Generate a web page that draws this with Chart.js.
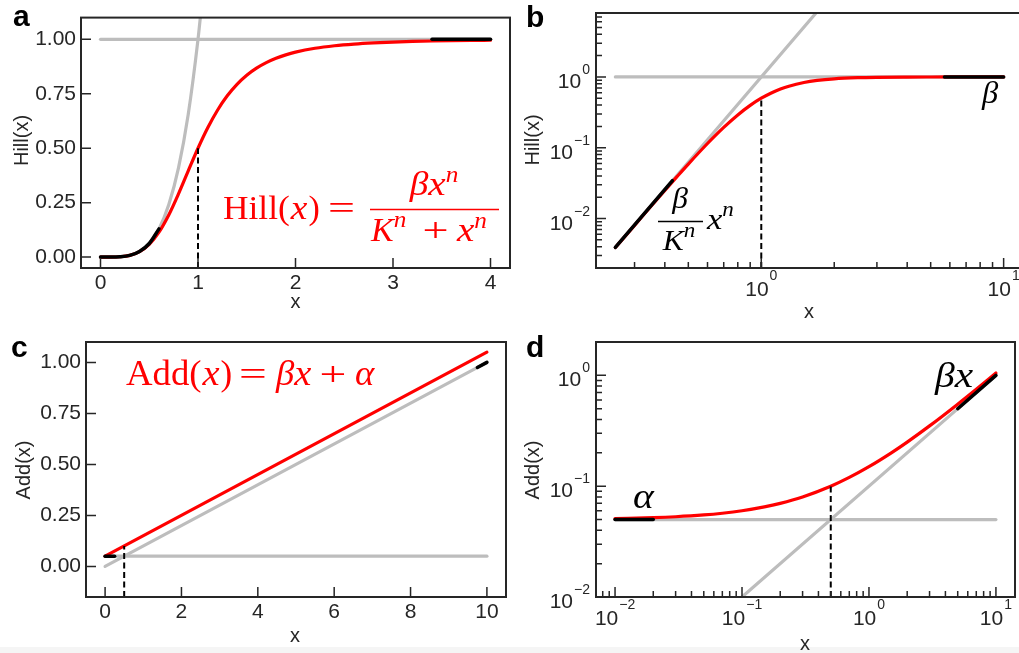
<!DOCTYPE html>
<html><head><meta charset="utf-8">
<script src="https://cdn.jsdelivr.net/npm/chart.js@4.4.1/dist/chart.umd.min.js"></script>
<style>
html,body{margin:0;padding:0;background:#fff;width:1019px;height:653px;overflow:hidden;position:relative}
canvas{position:absolute}
#strip{position:absolute;left:0;top:647px;width:1019px;height:6px;background:#f5f5f5}
</style></head><body>
<div id="strip"></div>
<canvas id="ca" width="515" height="320" style="left:0;top:0"></canvas>
<canvas id="cb" width="505" height="320" style="left:520px;top:0"></canvas>
<canvas id="cc" width="515" height="333" style="left:0;top:320px"></canvas>
<canvas id="cd" width="499" height="333" style="left:520px;top:320px"></canvas>
<script>
// ---------------- DATA ----------------
// Panel a : Hill(x), linear axes
const aHillX = [0,0.1,0.2,0.3,0.4,0.5,0.6,0.7,0.8,0.9,1.0,1.1,1.2,1.3,1.4,1.5,1.6,1.7,1.8,1.9,2.0,2.2,2.4,2.6,2.8,3.0,3.2,3.4,3.6,3.8,4.0];
const aHillY = [0,0.0001,0.0016,0.0080,0.0250,0.0588,0.1147,0.1936,0.2906,0.3962,0.5,0.5941,0.6746,0.7407,0.7935,0.8351,0.8676,0.8931,0.9130,0.9287,0.9412,0.9591,0.9708,0.9786,0.9840,0.9878,0.9906,0.9926,0.9941,0.9952,0.9961];
const aPowX = [0,0.1,0.2,0.3,0.4,0.5,0.6,0.7,0.8,0.9,1.0,1.05];
const aPowY = [0,0.0001,0.0016,0.0081,0.0256,0.0625,0.1296,0.2401,0.4096,0.6561,1.0,1.2155];
const aSatX = [0,4], aSatY = [1,1];
const aLowX = [0,0.1,0.2,0.3,0.4,0.5,0.6], aLowY = [0,0.0001,0.0016,0.0081,0.0256,0.0625,0.1296];
const aHighX = [3.4,4], aHighY = [1,1];
const aHalfX = [1,1], aHalfY = [-0.05,0.5];
const aXTicks = [0,1,2,3,4];
const aYTicks = [0,0.25,0.5,0.75,1];

// Panel b : Hill(x), log-log axes
const bHillX = [0.25,0.3,0.35,0.4,0.45,0.5,0.6,0.7,0.8,0.9,1.0,1.1,1.2,1.3,1.5,1.7,2,2.5,3,4,5,6,8,10];
const bHillY = [0.0039,0.0080,0.0148,0.0250,0.0394,0.0588,0.1147,0.1936,0.2906,0.3962,0.5,0.5941,0.6746,0.7407,0.8351,0.8931,0.9412,0.9750,0.9878,0.9961,0.9984,0.9992,0.9998,0.9999];
const bPowX = [0.25,2], bPowY = [0.0039,16];
const bSatX = [0.25,10], bSatY = [1,1];
const bLowX = [0.25,0.43], bLowY = [0.0039,0.0342];
const bHighX = [5.7,10], bHighY = [1,1];
const bHalfX = [1,1], bHalfY = [0.002,0.5];
const bXMajor = [1,10];
const bXMinor = [0.3,0.4,0.5,0.6,0.7,0.8,0.9,2,3,4,5,6,7,8,9];
const bYMajor = [0.01,0.1,1];
const bYMinor = [0.002,0.003,0.004,0.005,0.006,0.007,0.008,0.009,0.02,0.03,0.04,0.05,0.06,0.07,0.08,0.09,0.2,0.3,0.4,0.5,0.6,0.7,0.8,0.9,2,3,4,5,6,7,8];

// Panel c : Add(x), linear axes
const cAddX = [0,10], cAddY = [0.05,1.05];
const cLinX = [0,10], cLinY = [0,1];
const cConX = [0,10], cConY = [0.05,0.05];
const cLowX = [0,0.25], cLowY = [0.05,0.05];
const cHighX = [9.75,10], cHighY = [0.975,1];
const cHalfX = [0.5,0.5], cHalfY = [-0.15,0.1];
const cXTicks = [0,2,4,6,8,10];
const cYTicks = [0,0.25,0.5,0.75,1];

// Panel d : Add(x), log-log axes
const dAddX = [0.01,0.02,0.03,0.05,0.07,0.1,0.15,0.2,0.3,0.5,0.7,1,1.5,2,3,5,7,10];
const dAddY = [0.051,0.052,0.053,0.055,0.057,0.06,0.065,0.07,0.08,0.1,0.12,0.15,0.2,0.25,0.35,0.55,0.75,1.05];
const dConX = [0.01,10], dConY = [0.05,0.05];
const dLinX = [0.1,10], dLinY = [0.01,1];
const dLowX = [0.01,0.02], dLowY = [0.05,0.05];
const dHighX = [5,10], dHighY = [0.5,1];
const dHalfX = [0.5,0.5], dHalfY = [0.01,0.1];
const dXMajor = [0.01,0.1,1,10];
const dXMinor = [0.008,0.009,0.02,0.03,0.04,0.05,0.06,0.07,0.08,0.09,0.2,0.3,0.4,0.5,0.6,0.7,0.8,0.9,2,3,4,5,6,7,8,9];
const dYMajor = [0.01,0.1,1];
const dYMinor = [0.02,0.03,0.04,0.05,0.06,0.07,0.08,0.09,0.2,0.3,0.4,0.5,0.6,0.7,0.8,0.9];

// ---------------- STYLE ----------------
const RED = '#ff0000', GRAY = '#bdbdbd', BLACK = '#000000', AXIS = '#262626';
const SANS = '"Liberation Sans", Arial, sans-serif';
const SERIF = '"Liberation Serif", "Times New Roman", serif';
const TICK_PX = 21;

function pts(xs, ys) { return xs.map((x, i) => ({x: x, y: ys[i]})); }
function ds(xs, ys, color, width, extra) {
  return Object.assign({
    data: pts(xs, ys), borderColor: color, backgroundColor: color, borderWidth: width,
    pointRadius: 0, pointHoverRadius: 0, showLine: true, fill: false, tension: 0,
    borderCapStyle: 'round', borderJoinStyle: 'round'
  }, extra || {});
}
const CURVE = {cubicInterpolationMode: 'monotone'};
const DASH = {borderDash: [6, 3.5], borderCapStyle: 'butt'};

function scaleCfg(type, min, max, tickVals, fit, horiz, fmt, pad) {
  const s = {
    type: type, min: min, max: max, bounds: 'data',
    grid: {display: false, drawTicks: false}, border: {display: false},
    afterFit: sc => { if (horiz) sc.height = fit; else sc.width = fit; },
    ticks: {display: !!fmt, autoSkip: false, maxRotation: 0, minRotation: 0, padding: pad || 4,
      color: AXIS, font: {family: SANS, size: TICK_PX}, callback: fmt || (() => '')}
  };
  if (tickVals) s.afterBuildTicks = sc => { sc.ticks = tickVals.map(v => ({value: v})); };
  return s;
}

// ---------------- DECORATION (box, inward ticks, log labels, titles, formulas) ----------------
function runFont(r) { return (r.it ? 'italic ' : '') + r.s + 'px ' + SERIF; }
function drawGroup(ctx, g) {
  const items = g.runs.map(r => { ctx.font = runFont(r); return {r: r, w: ctx.measureText(r.t).width * (r.sx || 1)}; });
  const total = items.reduce((a, b) => a + b.w + (b.r.gap || 0), 0);
  let x = (g.cx !== undefined) ? g.cx - total / 2 : g.x;
  ctx.fillStyle = g.c || BLACK;
  ctx.textAlign = 'left'; ctx.textBaseline = 'alphabetic';
  for (const it of items) {
    x += it.r.gap || 0;
    ctx.font = runFont(it.r);
    ctx.save(); ctx.translate(x, g.y - (it.r.dy || 0)); ctx.scale(it.r.sx || 1, 1);
    ctx.fillText(it.r.t, 0, 0); ctx.restore();
    x += it.w;
  }
}
function expLabel(v) { const e = Math.round(Math.log10(v)); return e < 0 ? '\u2212' + (-e) : String(e); }

const DECOR = {
  ca: {
    xMajor: aXTicks, yMajor: aYTicks, xMinor: [], yMinor: [],
    letter: {t: 'a', x: 13, y: 26}, yTitle: {t: 'Hill(x)', x: 22, y: 140.5}, xTitle: {t: 'x', x: 295.5, y: 308},
    bars: [{x1: 370, x2: 499, y: 209.5, c: RED, w: 1.6}],
    groups: [
      {x: 223, y: 219, c: RED, runs: [{t: 'Hill(', s: 34, sx: 1.04}, {t: 'x', it: 1, s: 34, sx: 1.1, gap: 1}, {t: ')', s: 34, gap: 1}]},
      {cx: 341.5, y: 219, c: RED, runs: [{t: '=', s: 33, sx: 1.45}]},
      {cx: 434, y: 195, c: RED, runs: [{t: '\u03b2', it: 1, s: 34, sx: 1.1}, {t: 'x', it: 1, s: 34, sx: 1.15}, {t: 'n', it: 1, s: 23, dy: 13, sx: 1.1}]},
      {x: 371, y: 241, c: RED, runs: [{t: 'K', it: 1, s: 34}, {t: 'n', it: 1, s: 23, dy: 14, sx: 1.1}]},
      {cx: 435.5, y: 241, c: RED, runs: [{t: '+', s: 33, sx: 1.4}]},
      {x: 457, y: 241, c: RED, runs: [{t: 'x', it: 1, s: 34, sx: 1.15}, {t: 'n', it: 1, s: 23, dy: 13, sx: 1.1}]}
    ]
  },
  cb: {
    xMajor: bXMajor, xMinor: bXMinor, yMajor: bYMajor, yMinor: bYMinor, xLog: true, yLog: true,
    letter: {t: 'b', x: 6, y: 27}, yTitle: {t: 'Hill(x)', x: 13, y: 140}, xTitle: {t: 'x', x: 289, y: 318},
    bars: [{x1: 138, x2: 183, y: 221.5, c: BLACK, w: 1.5}],
    groups: [
      {x: 462, y: 103, c: BLACK, runs: [{t: '\u03b2', it: 1, s: 31, sx: 1.05}]},
      {cx: 160, y: 208, c: BLACK, runs: [{t: '\u03b2', it: 1, s: 30, sx: 1.05}]},
      {cx: 159, y: 250, c: BLACK, runs: [{t: 'K', it: 1, s: 30, sx: 1.05}, {t: 'n', it: 1, s: 21, dy: 13, sx: 1.1}]},
      {x: 187, y: 228.5, c: BLACK, runs: [{t: 'x', it: 1, s: 30, sx: 1.15}, {t: 'n', it: 1, s: 21, dy: 13, sx: 1.1}]}
    ]
  },
  cc: {
    xMajor: cXTicks, yMajor: cYTicks, xMinor: [], yMinor: [],
    letter: {t: 'c', x: 11, y: 37}, yTitle: {t: 'Add(x)', x: 24, y: 150}, xTitle: {t: 'x', x: 295, y: 322},
    bars: [],
    groups: [
      {x: 126, y: 65, c: RED, runs: [{t: 'Add(', s: 35, sx: 1.05}, {t: 'x', it: 1, s: 35, sx: 1.1, gap: 1}, {t: ')', s: 35, gap: 1}]},
      {cx: 253, y: 65, c: RED, runs: [{t: '=', s: 34, sx: 1.45}]},
      {x: 276, y: 65, c: RED, runs: [{t: '\u03b2', it: 1, s: 35, sx: 1.05}, {t: 'x', it: 1, s: 35, sx: 1.1}]},
      {cx: 333, y: 65, c: RED, runs: [{t: '+', s: 34, sx: 1.4}]},
      {x: 355, y: 65, c: RED, runs: [{t: '\u03b1', it: 1, s: 35, sx: 1.05}]}
    ]
  },
  cd: {
    xMajor: dXMajor, xMinor: dXMinor, yMajor: dYMajor, yMinor: dYMinor, xLog: true, yLog: true,
    letter: {t: 'd', x: 6, y: 37}, yTitle: {t: 'Add(x)', x: 13, y: 150}, xTitle: {t: 'x', x: 285, y: 330},
    bars: [],
    groups: [
      {x: 415, y: 67, c: BLACK, runs: [{t: '\u03b2', it: 1, s: 36, sx: 1.1}, {t: 'x', it: 1, s: 36, sx: 1.15}]},
      {x: 113, y: 188, c: BLACK, runs: [{t: '\u03b1', it: 1, s: 36, sx: 1.1}]}
    ]
  }
};

const decorPlugin = {
  id: 'decor',
  afterDraw(chart) {
    const cfg = DECOR[chart.canvas.id]; if (!cfg) return;
    const ctx = chart.ctx, ca = chart.chartArea, xs = chart.scales.x, ys = chart.scales.y;
    ctx.save();
    // inward ticks
    ctx.strokeStyle = AXIS; ctx.lineWidth = 1.5; ctx.lineCap = 'butt';
    ctx.beginPath();
    const seg = (x1, y1, x2, y2) => { ctx.moveTo(x1, y1); ctx.lineTo(x2, y2); };
    cfg.xMajor.forEach(v => { const p = xs.getPixelForValue(v); seg(p, ca.bottom, p, ca.bottom - 10); });
    cfg.xMinor.forEach(v => { const p = xs.getPixelForValue(v); seg(p, ca.bottom, p, ca.bottom - 6); });
    cfg.yMajor.forEach(v => { const p = ys.getPixelForValue(v); seg(ca.left, p, ca.left + 10, p); });
    cfg.yMinor.forEach(v => { const p = ys.getPixelForValue(v); seg(ca.left, p, ca.left + 6, p); });
    ctx.stroke();
    // box
    ctx.lineWidth = 2;
    ctx.strokeRect(ca.left, ca.top, ca.right - ca.left, ca.bottom - ca.top);
    // log tick labels 10^k
    ctx.fillStyle = AXIS; ctx.textBaseline = 'alphabetic'; ctx.textAlign = 'left';
    const main = TICK_PX + 'px ' + SANS, sup = '14px ' + SANS;
    if (cfg.xLog) {
      cfg.xMajor.forEach(v => {
        const p = xs.getPixelForValue(v), e = expLabel(v);
        ctx.font = main; const w1 = ctx.measureText('10').width;
        ctx.font = sup; const w2 = ctx.measureText(e).width;
        const left = p - (w1 + w2 + 1) / 2, base = ca.bottom + 27.5;
        ctx.font = main; ctx.fillText('10', left, base);
        ctx.font = sup; ctx.fillText(e, left + w1 + 1, base - 16);
      });
    }
    if (cfg.yLog) {
      cfg.yMajor.forEach(v => {
        const p = ys.getPixelForValue(v), e = expLabel(v);
        ctx.font = main; const w1 = ctx.measureText('10').width;
        ctx.font = sup; const w2 = ctx.measureText(e).width;
        const right = ca.left - 6, left = right - w1 - w2 - 1, base = p + 11;
        ctx.font = main; ctx.fillText('10', left, base);
        ctx.font = sup; ctx.fillText(e, left + w1 + 1, base - 14);
      });
    }
    // axis titles
    ctx.font = '20px ' + SANS; ctx.fillStyle = AXIS;
    ctx.textAlign = 'center'; ctx.textBaseline = 'alphabetic';
    ctx.fillText(cfg.xTitle.t, cfg.xTitle.x, cfg.xTitle.y);
    ctx.save(); ctx.translate(cfg.yTitle.x, cfg.yTitle.y); ctx.rotate(-Math.PI / 2);
    ctx.textBaseline = 'middle'; ctx.fillText(cfg.yTitle.t, 0, 0); ctx.restore();
    // panel letter
    ctx.font = 'bold 30px ' + SANS; ctx.fillStyle = '#000'; ctx.textAlign = 'left'; ctx.textBaseline = 'alphabetic';
    ctx.fillText(cfg.letter.t, cfg.letter.x, cfg.letter.y);
    // formulas
    cfg.bars.forEach(b => { ctx.strokeStyle = b.c; ctx.lineWidth = b.w; ctx.beginPath(); ctx.moveTo(b.x1, b.y); ctx.lineTo(b.x2, b.y); ctx.stroke(); });
    cfg.groups.forEach(g => drawGroup(ctx, g));
    ctx.restore();
  }
};

function makeChart(id, datasets, xScale, yScale, padding) {
  return new Chart(document.getElementById(id), {
    type: 'scatter',
    data: {datasets: datasets},
    options: {
      responsive: false, animation: false, devicePixelRatio: 1, events: [],
      layout: {padding: padding},
      plugins: {legend: {display: false}, tooltip: {enabled: false}},
      scales: {x: xScale, y: yScale}
    },
    plugins: [decorPlugin]
  });
}

const fmt2 = v => Number(v).toFixed(2);
const fmt0 = v => String(v);

// datasets listed top-most first
makeChart('ca', [
  ds(aHalfX, aHalfY, BLACK, 2, DASH),
  ds(aLowX, aLowY, BLACK, 3.5, CURVE),
  ds(aHighX, aHighY, BLACK, 3.5),
  ds(aHillX, aHillY, RED, 3.2, CURVE),
  ds(aSatX, aSatY, GRAY, 3.2),
  ds(aPowX, aPowY, GRAY, 3.2, CURVE)
], scaleCfg('linear', -0.2, 4.2, aXTicks, 52, true, fmt0, 3),
   scaleCfg('linear', -0.05, 1.1, aYTicks, 81, false, fmt2, 5),
   {left: 0, top: 13, right: 5, bottom: 0});

makeChart('cb', [
  ds(bHalfX, bHalfY, BLACK, 2, DASH),
  ds(bLowX, bLowY, BLACK, 3.5),
  ds(bHighX, bHighY, BLACK, 3.5),
  ds(bHillX, bHillY, RED, 3.2, CURVE),
  ds(bSatX, bSatY, GRAY, 3.2),
  ds(bPowX, bPowY, GRAY, 3.2)
], scaleCfg('logarithmic', 0.208, 12.02, null, 52, true, null),
   scaleCfg('logarithmic', 0.002, 8, null, 76, false, null),
   {left: 0, top: 13, right: 2, bottom: 0});

makeChart('cc', [
  ds(cHalfX, cHalfY, BLACK, 2, DASH),
  ds(cLowX, cLowY, BLACK, 3.5),
  ds(cHighX, cHighY, BLACK, 3.5),
  ds(cAddX, cAddY, RED, 3.2),
  ds(cConX, cConY, GRAY, 3.2),
  ds(cLinX, cLinY, GRAY, 3.2)
], scaleCfg('linear', -0.5, 10.5, cXTicks, 56, true, fmt0, 3),
   scaleCfg('linear', -0.15, 1.1, cYTicks, 86, false, fmt2, 5),
   {left: 0, top: 22, right: 9, bottom: 0});

makeChart('cd', [
  ds(dHalfX, dHalfY, BLACK, 2, DASH),
  ds(dLowX, dLowY, BLACK, 3.5),
  ds(dHighX, dHighY, BLACK, 3.5),
  ds(dAddX, dAddY, RED, 3.2, CURVE),
  ds(dConX, dConY, GRAY, 3.2),
  ds(dLinX, dLinY, GRAY, 3.2)
], scaleCfg('logarithmic', 0.00708, 14.13, null, 56, true, null),
   scaleCfg('logarithmic', 0.01, 2, null, 76, false, null),
   {left: 0, top: 22, right: 4, bottom: 0});
</script>
</body></html>
